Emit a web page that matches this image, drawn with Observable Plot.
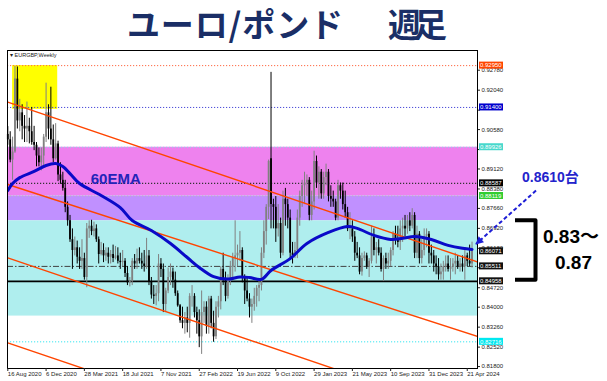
<!DOCTYPE html>
<html><head><meta charset="utf-8">
<script src="https://cdn.jsdelivr.net/npm/d3@7"></script>
<script src="https://cdn.jsdelivr.net/npm/@observablehq/plot@0.6"></script>
<style>html,body{margin:0;padding:0;background:#fff;} svg{display:block}</style>
</head><body><div id="chart"></div>
<script>
// ---- weekly EUR/GBP candles (first bar: week of 16 Aug 2020) ----
const startDate = "2020-08-16";
const opens = [
.9040,.9020,.8945,.8975,.9245,.9090,.9120,.9070,.9060,.9070,
.9050,.9010,.9000,.8960,.8935,.8960,.9030,.9120,.9060,.9020,
.8950,.9005,.8890,.8870,.8840,.8770,.8720,.8650,.8610,.8620,
.8585,.8570,.8580,.8510,.8690,.8700,.8680,.8690,.8650,.8595,
.8610,.8590,.8600,.8585,.8595,.8580,.8590,.8570,.8565,.8570,
.8525,.8490,.8495,.8570,.8560,.8580,.8570,.8560,.8550,.8590,
.8495,.8445,.8440,.8450,.8560,.8540,.8410,.8460,.8510,.8530,
.8500,.8450,.8405,.8350,.8340,.8360,.8340,.8440,.8440,.8380,
.8350,.8290,.8380,.8400,.8330,.8430,.8340,.8290,.8400,.8420,
.8540,.8500,.8440,.8500,.8550,.8580,.8590,.8600,.8610,.8510,
.8460,.8430,.8400,.8410,.8440,.8470,.8480,.8600,.8680,.8770,
.8950,.8780,.8770,.8690,.8710,.8600,.8800,.8780,.8730,.8600,
.8590,.8610,.8730,.8810,.8850,.8860,.8870,.8740,.8790,.8940,
.8860,.8900,.8820,.8880,.8900,.8810,.8800,.8790,.8730,.8850,
.8830,.8780,.8750,.8690,.8690,.8660,.8600,.8590,.8530,.8580,
.8590,.8550,.8570,.8660,.8610,.8620,.8600,.8540,.8580,.8560,
.8570,.8610,.8670,.8650,.8640,.8690,.8700,.8690,.8720,.8700,
.8740,.8600,.8670,.8580,.8610,.8660,.8670,.8600,.8590,.8560,
.8550,.8520,.8530,.8550,.8560,.8540,.8550,.8560,.8570,.8550,
.8560,.8550,.8590,.8570,.8560];
const highs = [
.9069,.9050,.9030,.9292,.9290,.9170,.9150,.9110,.9160,.9100,
.9140,.9070,.9010,.8990,.8990,.9040,.9230,.9150,.9215,.9075,
.9080,.9015,.8935,.8900,.8870,.8790,.8740,.8690,.8660,.8645,
.8620,.8650,.8600,.8710,.8720,.8722,.8715,.8705,.8660,.8640,
.8635,.8620,.8620,.8610,.8630,.8625,.8620,.8600,.8610,.8580,
.8550,.8510,.8580,.8595,.8615,.8620,.8600,.8610,.8655,.8610,
.8510,.8480,.8480,.8595,.8580,.8560,.8470,.8545,.8560,.8545,
.8530,.8460,.8410,.8400,.8380,.8400,.8450,.8480,.8450,.8400,
.8390,.8460,.8420,.8420,.8440,.8440,.8385,.8420,.8440,.8550,
.8600,.8530,.8520,.8570,.8600,.8720,.8630,.8680,.8620,.8520,
.8510,.8450,.8430,.8470,.8480,.8500,.8620,.8720,.8780,.8945,
.9270,.8800,.8810,.8780,.8730,.8830,.8840,.8800,.8760,.8640,
.8640,.8760,.8830,.8870,.8900,.8890,.8880,.8830,.8978,.8960,
.8920,.8910,.8900,.8930,.8910,.8850,.8830,.8800,.8870,.8860,
.8860,.8830,.8770,.8750,.8720,.8680,.8640,.8620,.8600,.8605,
.8600,.8580,.8700,.8690,.8640,.8650,.8620,.8590,.8600,.8600,
.8620,.8680,.8700,.8700,.8720,.8730,.8740,.8740,.8750,.8765,
.8750,.8700,.8680,.8650,.8690,.8690,.8680,.8630,.8610,.8590,
.8580,.8560,.8570,.8590,.8590,.8580,.8580,.8600,.8590,.8580,
.8590,.8620,.8600,.8630,.8641];
const lows = [
.9000,.8935,.8870,.8970,.9060,.9050,.9020,.9010,.9010,.9005,
.9000,.8980,.8920,.8920,.8905,.8925,.9010,.9020,.9000,.8935,
.8945,.8865,.8855,.8830,.8750,.8700,.8640,.8540,.8590,.8560,
.8540,.8540,.8500,.8472,.8655,.8665,.8660,.8640,.8560,.8590,
.8565,.8570,.8560,.8560,.8565,.8575,.8560,.8540,.8550,.8510,
.8480,.8475,.8480,.8540,.8540,.8560,.8540,.8530,.8540,.8480,
.8430,.8410,.8405,.8420,.8510,.8380,.8380,.8450,.8480,.8470,
.8440,.8400,.8340,.8320,.8300,.8305,.8285,.8400,.8360,.8300,
.8250,.8225,.8340,.8300,.8300,.8320,.8270,.8280,.8360,.8390,
.8480,.8420,.8430,.8480,.8500,.8530,.8550,.8570,.8490,.8410,
.8420,.8360,.8340,.8385,.8400,.8420,.8460,.8580,.8630,.8725,
.8690,.8690,.8640,.8660,.8580,.8590,.8700,.8690,.8580,.8560,
.8580,.8580,.8700,.8770,.8780,.8810,.8720,.8720,.8760,.8840,
.8800,.8800,.8800,.8850,.8790,.8770,.8770,.8720,.8720,.8800,
.8760,.8730,.8680,.8650,.8640,.8570,.8580,.8520,.8515,.8570,
.8540,.8510,.8560,.8590,.8560,.8590,.8530,.8495,.8540,.8540,
.8550,.8590,.8630,.8620,.8610,.8640,.8660,.8670,.8680,.8690,
.8580,.8580,.8560,.8560,.8590,.8620,.8560,.8560,.8530,.8520,
.8500,.8500,.8500,.8530,.8530,.8500,.8530,.8520,.8540,.8530,
.8530,.8500,.8550,.8550,.8545];
const closes = [
.9020,.8945,.8975,.9245,.9090,.9120,.9070,.9060,.9070,.9050,
.9010,.9000,.8960,.8935,.8960,.9030,.9120,.9060,.9020,.8950,
.9005,.8890,.8870,.8840,.8770,.8720,.8650,.8610,.8620,.8585,
.8570,.8580,.8510,.8690,.8700,.8680,.8690,.8650,.8595,.8610,
.8590,.8600,.8585,.8595,.8580,.8590,.8570,.8565,.8570,.8525,
.8490,.8495,.8570,.8560,.8580,.8570,.8560,.8550,.8590,.8495,
.8445,.8440,.8450,.8560,.8540,.8410,.8460,.8510,.8530,.8500,
.8450,.8405,.8350,.8340,.8360,.8340,.8440,.8440,.8380,.8350,
.8290,.8380,.8400,.8330,.8430,.8340,.8290,.8400,.8420,.8540,
.8500,.8440,.8500,.8550,.8580,.8590,.8600,.8610,.8510,.8460,
.8430,.8400,.8410,.8440,.8470,.8480,.8600,.8680,.8770,.8940,
.8780,.8770,.8690,.8710,.8600,.8800,.8780,.8730,.8600,.8590,
.8610,.8730,.8810,.8850,.8860,.8870,.8740,.8790,.8940,.8860,
.8900,.8820,.8880,.8900,.8810,.8800,.8790,.8730,.8850,.8830,
.8780,.8750,.8690,.8690,.8660,.8600,.8590,.8530,.8580,.8590,
.8550,.8570,.8660,.8610,.8620,.8600,.8540,.8580,.8560,.8570,
.8610,.8670,.8650,.8640,.8690,.8700,.8690,.8720,.8700,.8740,
.8600,.8670,.8580,.8610,.8660,.8670,.8600,.8590,.8560,.8550,
.8520,.8530,.8550,.8560,.8540,.8550,.8560,.8570,.8550,.8560,
.8550,.8590,.8570,.8560,.8607];

// ---- 60-week EMA, read at sample weeks ----
const emaWeeks  = [0,2,5,11,16,20,23,26,30,39,47,52,60,68,75,80,86,92,97,101,106,110,118,125,134,142,146,153,160,165,170,177,184,190,194];
const emaValues = [0.8832,0.8858,0.8880,0.8903,0.8925,0.8932,0.8921,0.8895,0.8858,0.8814,0.8769,0.8721,0.8684,0.8636,0.8584,0.8547,0.8513,0.8504,0.8512,0.8510,0.8503,0.8536,0.8580,0.8636,0.8677,0.8699,0.8692,0.8666,0.8651,0.8655,0.8662,0.8651,0.8629,0.8618,0.8614];

// ---- axes ----
const xTickLabels = ["16 Aug 2020","6 Dec 2020","28 Mar 2021","18 Jul 2021","7 Nov 2021","27 Feb 2022","19 Jun 2022","9 Oct 2022","29 Jan 2023","21 May 2023","10 Sep 2023","31 Dec 2023","21 Apr 2024"];
const yTickValues = [0.92780,0.92040,0.91300,0.90580,0.89840,0.89120,0.88380,0.87660,0.86920,0.86180,0.85460,0.84720,0.84000,0.83260,0.82520,0.81800];
const yTicksUnderBadges = [0.91300, 0.89840, 0.85460];
const xDomainDates = ["2020-08-15T03:00Z","2024-05-21T00:00Z"];
const yDomainPrices = [0.81728, 0.93510];

// ---- zones ----
const zoneTops    = [0.89926, 0.88119, 0.87200];
const zoneBottoms = [0.88119, 0.87200, 0.83670];
const zoneColors  = ["#EE82EE", "#C090FF", "#AFEEEE"];
const yellowBox = {start: "2020-08-30", end: "2021-01-09", top: 0.92950, bottom: 0.91330};

// ---- horizontal levels ----
const levelPrices = [0.92950, 0.91400, 0.89926, 0.88587, 0.88119, 0.85511, 0.84958, 0.82716];
const levelColors = ["#FF6A45", "#4A4AD8", "#8ADCE6", "#333333", "#B8B8B8", "#404040", "#000000", "#38E6F0"];
const levelDashes = ["1.2,1.8", "1.2,1.8", "1.2,1.8", "1.2,1.8", "1.2,1.8", "6,2,1.5,2", null, "1.2,1.8"];
const levelWidths = [1, 1, 1, 1.1, 1, 1, 1.8, 1];

// ---- price badges on the axis ----
const badgePrices = [0.92950, 0.91400, 0.89926, 0.88587, 0.88119, 0.86071, 0.85511, 0.84958, 0.82716];
const badgeColors = ["#FF4500", "#0000CD", "#48D8CC", "#000000", "#32CD32", "#111111", "#111111", "#111111", "#00E8F0"];

// ---- channel trend lines ----
const trendIds = ["t1", "t2", "t3", "t4"];
const trendStartDates = ["2020-08-16", "2020-08-16", "2020-08-16", "2020-08-16"];
const trendStartPrices = [0.91598, 0.88545, 0.85829, 0.82680];
const trendEndDates = ["2024-05-21", "2024-05-21", "2024-05-21", "2024-05-21"];
const trendEndPrices = [0.85674, 0.82913, 0.79912, 0.76765];

// ---- build tables ----
const t0 = new Date(startDate + "T00:00Z");
const candles = opens.map((o, i) => ({
  date: d3.utcDay.offset(t0, 7 * i), open: o, high: highs[i], low: lows[i], close: closes[i],
  color: closes[i] >= o ? "#808080" : "#000000"
}));
const emaData = emaWeeks.map((w, i) => ({date: d3.utcDay.offset(t0, 7 * w), value: emaValues[i]}));
const xDomain = xDomainDates.map(s => new Date(s));
const zones = zoneTops.map((t, i) => ({top: t, bottom: zoneBottoms[i], color: zoneColors[i]}));
const trendData = trendIds.flatMap((id, i) => [
  {id, date: new Date(trendStartDates[i]), price: trendStartPrices[i]},
  {id, date: new Date(trendEndDates[i]), price: trendEndPrices[i]}
]);
const parseTick = d3.utcParse("%d %b %Y");
const xTickDates = xTickLabels.map(s => parseTick(s));
const fmtTick = d3.utcFormat("%-d %b %Y");
const fmtPrice = d3.format(".5f");
const fmtYTick = v => yTicksUnderBadges.some(h => Math.abs(h - v) < 1e-7) ? "" : fmtPrice(v);

const levelMarks = levelPrices.map((p, i) => Plot.ruleY([p], {
  stroke: levelColors[i], strokeWidth: levelWidths[i], strokeDasharray: levelDashes[i] || undefined
}));

const chart = Plot.plot({
  width: 607, height: 381,
  marginLeft: 7, marginRight: 130, marginTop: 50, marginBottom: 13,
  style: {fontFamily: "'Liberation Sans', Arial, sans-serif", background: "#fff", color: "#222"},
  x: {type: "utc", domain: xDomain, axis: null},
  y: {domain: yDomainPrices, axis: null},
  color: {type: "identity"},
  marks: [
    Plot.rect(zones, {x1: () => xDomain[0], x2: () => xDomain[1], y1: "bottom", y2: "top", fill: "color"}),
    Plot.rect([yellowBox], {x1: d => new Date(d.start), x2: d => new Date(d.end), y1: "bottom", y2: "top", fill: "#FFFF00"}),
    ...levelMarks,
    Plot.ruleX(candles, {x: "date", y1: "low", y2: "high", stroke: "color", strokeWidth: 1}),
    Plot.ruleX(candles, {x: "date", y1: "open", y2: "close", stroke: "color", strokeWidth: 1.8}),
    Plot.line(trendData, {x: "date", y: "price", z: "id", stroke: "#FF4500", strokeWidth: 1.4, clip: true}),
    Plot.line(emaData, {x: "date", y: "value", stroke: "#0A0AC8", strokeWidth: 3, curve: "catmull-rom", clip: true}),
    Plot.frame({stroke: "#000", strokeWidth: 1}),
    Plot.axisY(yTickValues, {anchor: "right", tickSize: 2, tickPadding: 2, fontSize: 6, tickFormat: fmtYTick, color: "#222"}),
    Plot.axisX(xTickDates, {anchor: "bottom", tickSize: 3, tickPadding: 0, fontSize: 6, tickFormat: fmtTick, textAnchor: "start", color: "#222"})
  ]
});
document.getElementById("chart").append(chart);

// ---- annotations positioned through the chart scales ----
const svg = d3.select(chart);
const xs = chart.scale("x"), ys = chart.scale("y");
const frameLeft = xs.range[0], frameRight = xs.range[1];
const frameTop = Math.min(...ys.range);
const ann = svg.append("g").attr("text-anchor", "start");

// price badges
const bg = ann.append("g").attr("font-family", "'Liberation Sans', Arial, sans-serif").attr("font-size", 6);
badgePrices.forEach((p, i) => {
  const y = ys.apply(p);
  bg.append("rect").attr("x", frameRight + 2).attr("y", y - 3.5).attr("width", 24).attr("height", 7).attr("fill", badgeColors[i]);
  bg.append("text").attr("x", frameRight + 3).attr("y", y + 2.2).attr("fill", "#fff").text(fmtPrice(p));
});

// symbol label
ann.append("text").attr("x", frameLeft + 3).attr("y", frameTop + 7)
  .attr("font-family", "'Liberation Sans', Arial, sans-serif").attr("font-size", 5.5).attr("fill", "#222")
  .text("▾ EURGBP,Weekly");

// title
const titleG = ann.append("g").attr("font-family", "'Noto Sans CJK JP', sans-serif").attr("font-weight", "bold")
  .attr("font-size", 33).attr("fill", "#1A2E66");
titleG.append("text").attr("x", 127).attr("y", 37).attr("textLength", 216).text("ユーロ/ポンド");
titleG.append("text").attr("x", 388).attr("y", 37).attr("textLength", 59).text("週足");

// 60EMA label
ann.append("text").attr("x", xs.apply(new Date("2021-04-17"))).attr("y", ys.apply(0.88545))
  .attr("font-family", "'Liberation Sans', Arial, sans-serif").attr("font-weight", "bold").attr("font-size", 15)
  .attr("fill", "#2424B8").text("60EMA");

// arrow to current price
const defs = svg.append("defs");
defs.append("marker").attr("id", "ah").attr("viewBox", "0 0 10 10").attr("refX", 9).attr("refY", 5)
  .attr("markerWidth", 9).attr("markerHeight", 8).attr("markerUnits", "userSpaceOnUse").attr("orient", "auto")
  .append("path").attr("d", "M0,0 L10,5 L0,10 z").attr("fill", "#1F1FD6");
ann.append("line").attr("x1", frameRight + 59).attr("y1", ys.apply(0.8830))
  .attr("x2", frameRight - 1).attr("y2", ys.apply(0.8632))
  .attr("stroke", "#1F1FD6").attr("stroke-width", 2).attr("stroke-dasharray", "4,2.5").attr("marker-end", "url(#ah)");
ann.append("text").attr("x", frameRight + 45).attr("y", ys.apply(0.88630))
  .attr("font-family", "'Liberation Sans', 'Noto Sans CJK JP', sans-serif").attr("font-weight", "bold").attr("font-size", 14)
  .attr("fill", "#2323CC").text("0.8610台");

// bracket 0.83~0.87
const bTop = ys.apply(0.8720), bBot = ys.apply(0.8500);
ann.append("path").attr("d", `M${frameRight + 38},${bTop} H${frameRight + 58.5} V${bBot} H${frameRight + 38}`)
  .attr("fill", "none").attr("stroke", "#000").attr("stroke-width", 4).attr("stroke-linejoin", "round");
const rg = ann.append("g").attr("font-family", "'Liberation Sans', 'Noto Sans CJK JP', sans-serif").attr("font-weight", "bold")
  .attr("font-size", 19).attr("fill", "#000");
rg.append("text").attr("x", frameRight + 66).attr("y", ys.apply(0.86341)).text("0.83～");
rg.append("text").attr("x", frameRight + 78).attr("y", ys.apply(0.85414)).text("0.87");
</script>
</body></html>
